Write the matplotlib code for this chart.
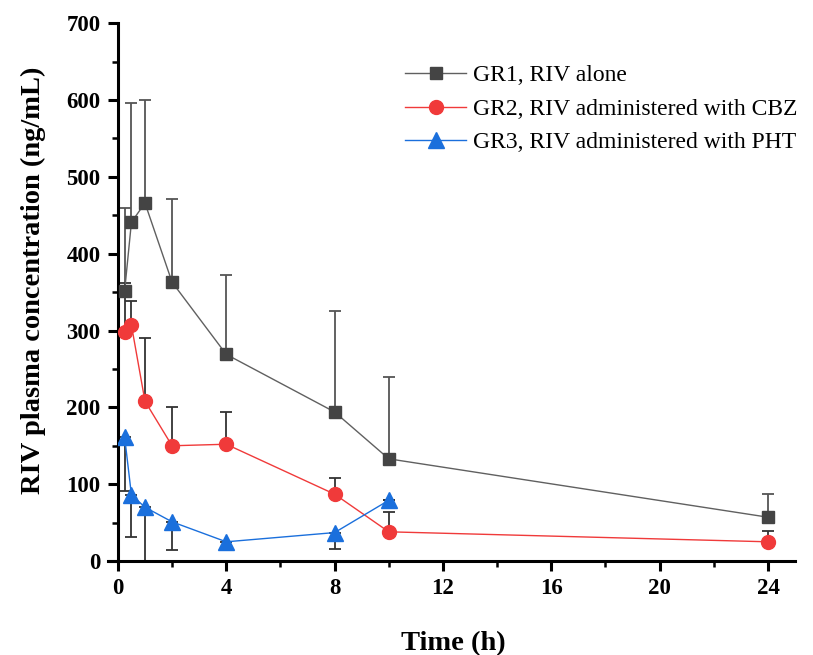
import matplotlib
matplotlib.use("Agg")
import matplotlib.pyplot as plt
import numpy as np

plt.rcParams['font.family'] = ['Liberation Serif', 'DejaVu Serif']

time = [0.25, 0.5, 1, 2, 4, 8, 10, 24]
time_gr3 = [0.25, 0.5, 1, 2, 4, 8, 10]

gr1 = [352, 441, 466, 363, 269, 194, 133, 57]
gr1_up = [108, 155, 134, 108, 103, 132, 106, 30]

gr2 = [298, 307, 208, 150, 152, 87, 38, 25]
gr2_up = [64, 32, 82, 51, 42, 21, 26, 14]

gr3 = [161, 86, 70, 51, 25, 37, 79]
gr3_down = [70, 55, 80, 37, 7, 21, 0]

labels = ['GR1, RIV alone', 'GR2, RIV administered with CBZ', 'GR3, RIV administered with PHT']
xticks = [0, 4, 8, 12, 16, 20, 24]
yticks = [0, 100, 200, 300, 400, 500, 600, 700]

fig = plt.figure(figsize=(8.13, 6.55), dpi=100)
ax = fig.add_axes([0.145, 0.1435, 0.833, 0.821])

c1, c2, c3 = '#444444', '#F03A3A', '#1A6FDC'
ec = '#333333'

z = np.zeros(len(time))
ax.errorbar(time, gr1, yerr=[z, gr1_up], fmt='none', ecolor='#555555', elinewidth=1.3, capsize=4, capthick=1.3, zorder=2)
ax.errorbar(time, gr2, yerr=[z, gr2_up], fmt='none', ecolor=ec, elinewidth=1.3, capsize=4, capthick=1.3, zorder=2)
ax.errorbar(time_gr3, gr3, yerr=[gr3_down, np.zeros(len(time_gr3))], fmt='none', ecolor=ec, elinewidth=1.3, capsize=4, capthick=1.3, zorder=2)

ax.plot(time, gr1, '-', color='#606060', lw=1, marker='s', ms=9, mfc=c1, mec=c1, label=labels[0], zorder=3)
ax.plot(time, gr2, '-', color=c2, lw=1, marker='o', ms=10, mfc=c2, mec=c2, label=labels[1], zorder=3)
ax.plot(time_gr3, gr3, '-', color=c3, lw=1, marker='^', ms=11, mfc=c3, mec=c3, label=labels[2], zorder=3)

ax.set_xlim(0, 25)
ax.set_ylim(0, 700)
ax.set_xticks(xticks)
ax.set_xticks(np.arange(0, 25, 2), minor=True)
ax.set_yticks(yticks)
ax.set_yticks(np.arange(0, 701, 50), minor=True)
for s in ['top', 'right']:
    ax.spines[s].set_visible(False)
for s in ['left', 'bottom']:
    ax.spines[s].set_linewidth(2.2)
ax.spines['bottom'].set_bounds(-0.37, 25)
ax.tick_params(which='major', direction='out', length=7.5, width=2.2, labelsize=16.5, pad=5)
ax.tick_params(which='minor', direction='out', length=4.5, width=1.8)
for lab in ax.get_xticklabels() + ax.get_yticklabels():
    lab.set_fontweight('bold')

ax.set_xlabel('Time (h)', fontsize=20.5, fontweight='bold')
ax.xaxis.set_label_coords(0.495, -0.131)
ax.set_ylabel('RIV plasma concentration (ng/mL)', fontsize=20.5, fontweight='bold')
ax.yaxis.set_label_coords(-0.106, 0.522)

leg = ax.legend(loc='upper left', bbox_to_anchor=(0.41, 0.94), frameon=False, fontsize=17,
                handlelength=2.6, handletextpad=0.3, labelspacing=0.5, borderaxespad=0)

fig.savefig('out.png', dpi=100)
